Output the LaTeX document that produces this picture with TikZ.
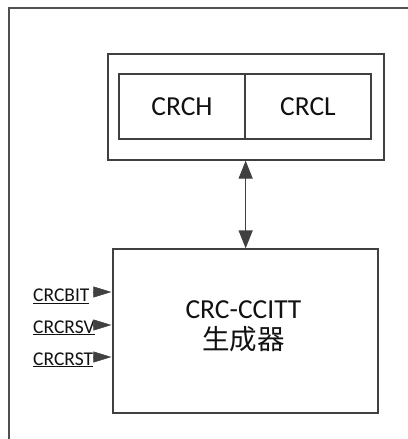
\documentclass[tikz,border=0pt]{standalone}
\usepackage{fontspec}
\setmainfont{Carlito}
\newfontfamily\cjkfont{Noto Sans CJK SC}
\usetikzlibrary{arrows.meta,positioning,calc}
\definecolor{Ink}{HTML}{111111}
\definecolor{Edge}{HTML}{404040}
\definecolor{Frame}{HTML}{505050}

\begin{document}
\begin{tikzpicture}[x=1pt, y=-1pt,
  reg/.style={draw=Edge, line width=1.3pt, minimum width=126pt, minimum height=65pt, inner sep=0pt, text=Ink, font=\fontsize{27.5}{30}\selectfont},
  block/.style={draw=Edge, line width=1.3pt, inner sep=0pt, text=Ink},
  sig/.style={anchor=base west, inner sep=0pt, text=Ink, font=\fontsize{19.5}{22}\selectfont},
  pin/.style={-{Triangle[length=18pt, width=11pt]}, draw=Edge, fill=Edge, line width=0.6pt, shorten >=1pt},
  link/.style={{Triangle[length=18pt, width=14pt]}-{Triangle[length=18pt, width=14pt]}, draw=Edge, line width=1.3pt}
]
\useasboundingbox (0,0) rectangle (407,439);
% outer frame, cut at the page edge
\draw[Frame, line width=1.6pt] (9,441) -- (9,8) -- (409,8);
% CRC register
\node[block, minimum width=276pt, minimum height=106pt] (crcreg) at (246,107) {};
\node[reg] (crch) at (182,106.5) {CRCH};
\node[reg] (crcl) at (308,106.5) {CRCL};
% generator
\node[block, minimum width=265pt, minimum height=164pt] (gen) at (245.5,331) {};
\node[align=center, text=Ink, font=\fontsize{27.5}{31}\selectfont] (gentext) at (243.5,326) {CRC-CCITT\\{\cjkfont 生成器}};
\draw[link] (crcreg.south -| crch.east) -- (gen.north -| crch.east);
% control inputs
\node[sig] (crcbit) at (33,301.5) {\underline{CRCBIT}};
\node[sig] (crcrsv) at (33,333) {\underline{CRCRSV}};
\node[sig] (crcrst) at (33,365) {\underline{CRCRST}};
\foreach \s/\y in {crcbit/292, crcrsv/325, crcrst/357} {
  \coordinate (\s-in) at (93,\y);
  \draw[pin] (\s-in) -- (\s-in -| gen.west);
}
\end{tikzpicture}
\end{document}
